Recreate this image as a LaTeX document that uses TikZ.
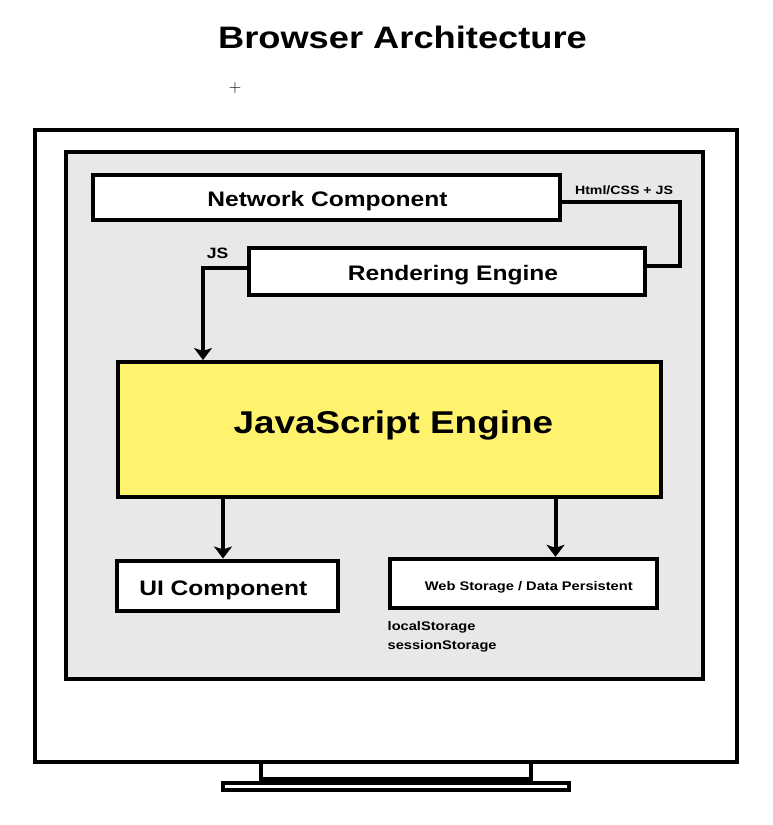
\documentclass[tikz,border=0pt]{standalone}
\usepackage{fontspec}
\newfontfamily\hv[FakeStretch=1.17]{Liberation Sans}
\usetikzlibrary{arrows.meta}
\definecolor{screengray}{HTML}{E8E8E8}
\definecolor{jsyellow}{HTML}{FFF36E}
\begin{document}
\begin{tikzpicture}[x=1pt,y=-1pt,
  box/.style={draw=black, line width=4pt, fill=white, inner sep=0pt},
  lbl/.style={anchor=base, inner sep=0pt},
  fs/.style={font=\hv\bfseries\fontsize{#1}{#1}\selectfont},
  conn/.style={line width=4pt},
  arrow/.style={conn, -{Stealth[length=12pt,width=18pt,inset=3pt]}}]
\useasboundingbox (0,0) rectangle (772,825);
% title and mark
\node[lbl, fs=31] (title) at (402.5,48.3) {Browser Architecture};
\node[inner sep=0pt, font=\fontsize{17}{20}\selectfont] (plus) at (235,88) {$+$};
% monitor
\draw[line width=4pt, fill=white] (261,762) rectangle (531,779);
\draw[line width=4pt, fill=white] (223,783) rectangle (569,790);
\draw[line width=4pt, fill=white] (35.3,130.3) rectangle (737,762);
\draw[line width=4pt, fill=screengray] (66.3,152) rectangle (703,678.7);
% boxes
\node[box, minimum width=467pt, minimum height=44.7pt] (net) at (326.5,197.7) {};
\node[box, minimum width=396pt, minimum height=47pt] (rend) at (447,271) {};
\node[box, fill=jsyellow, minimum width=543pt, minimum height=135pt] (js) at (389.5,429.5) {};
\node[box, minimum width=221.3pt, minimum height=50.5pt] (ui) at (227.7,585.75) {};
\node[box, minimum width=267.5pt, minimum height=49.4pt] (web) at (523.25,583.5) {};
% texts
\node[lbl, fs=21] (nett) at (327.5,206.7) {Network Component};
\node[lbl, fs=21] (rendt) at (453,280.7) {Rendering Engine};
\node[lbl, fs=31.5] (jst) at (393.3,433.3) {JavaScript Engine};
\node[lbl, fs=21] (uit) at (223.3,595) {UI Component};
\node[lbl, fs=12.5] (webt) at (528.8,590) {Web Storage / Data Persistent};
\node[lbl, anchor=base west, fs=12.5] (ls) at (387.5,630.7) {localStorage};
\node[lbl, anchor=base west, fs=12.5] (ss) at (387.5,649.3) {sessionStorage};
\node[lbl, fs=12.1] (htmlt) at (624,194) {Html/CSS + JS};
\node[lbl, fs=15] (jsl) at (217.5,258.3) {JS};
% connectors
\coordinate (nrturn) at (680,266);
\coordinate (jsx) at (203,0);
\coordinate (uix) at (223,0);
\coordinate (webx) at (555.5,0);
\draw[conn] ([yshift=-4pt]net.east) -| (nrturn) -- ([yshift=5pt]rend.east);
\draw[arrow] ([yshift=3pt]rend.west) -| (js.north -| jsx);
\draw[arrow] (js.south -| uix) -- (ui.north -| uix);
\draw[arrow] (js.south -| webx) -- (web.north -| webx);
\end{tikzpicture}
\end{document}
